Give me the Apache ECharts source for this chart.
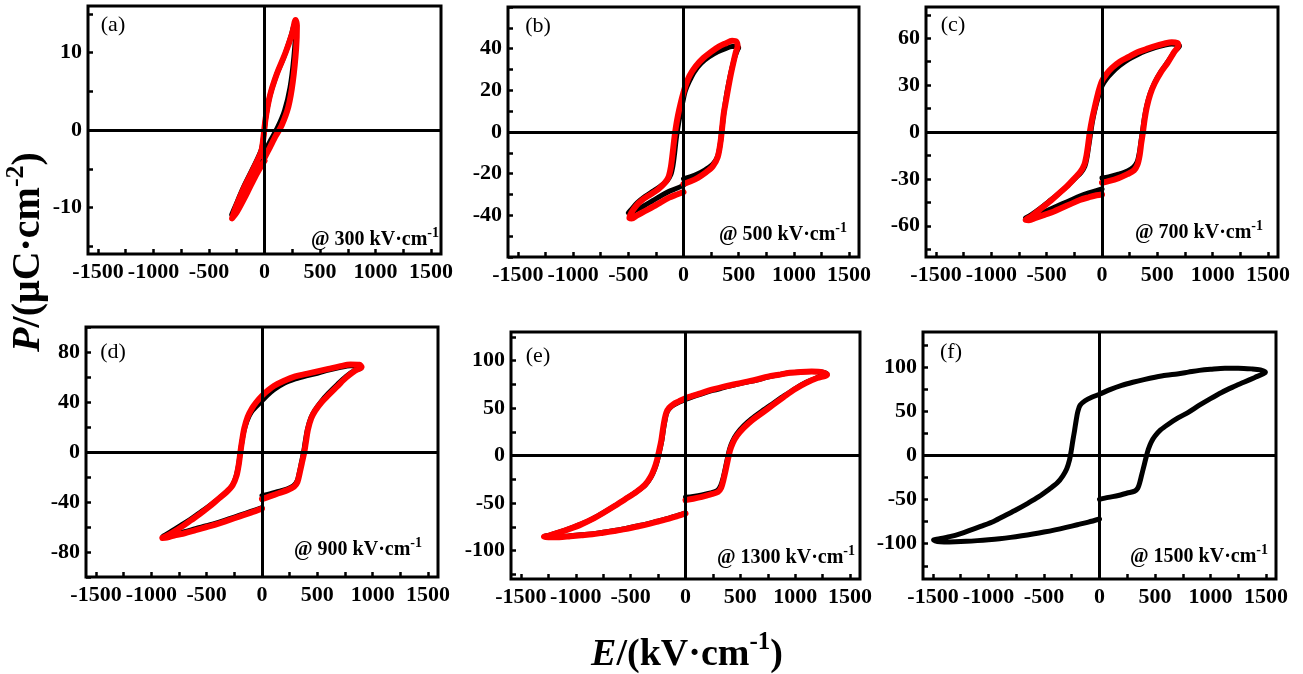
<!DOCTYPE html>
<html>
<head>
<meta charset="utf-8">
<script src="https://cdn.jsdelivr.net/npm/echarts@6/dist/echarts.min.js"></script>
<style>
html, body { margin: 0; padding: 0; background: #fff; }
#chart { width: 1303px; height: 674px; }
</style>
</head>
<body>
<div id="chart"></div>
<script>
// P-E loops, [E (kV/cm), P (uC/cm2)] in measuring order
const loopA_black = [[0,-2.8],[60,-1.2],[120,0.4],[180,2.5],[230,5.5],[265,9.5],[280,13],[270,13.6],[240,12.2],[180,9.6],[100,6.8],[45,4.2],[10,1.4],[-8,-0.8],[-30,-2.6],[-100,-4.8],[-190,-7.4],[-265,-9.9],[-295,-10.9],[-260,-10.6],[-170,-8],[-90,-5.6],[-30,-3.8],[0,-3.2]];
const loopA_red = [[0,-3.6],[50,-2.2],[100,-0.8],[155,0.6],[215,3],[255,6.2],[285,10.5],[292,13.5],[280,14.2],[250,12.5],[190,10],[110,7.2],[50,4.5],[10,1.5],[-10,-1],[-30,-2.8],[-100,-5],[-190,-7.6],[-260,-10],[-292,-11.4],[-250,-10.6],[-160,-8.2],[-80,-5.9],[-20,-4.4],[0,-4]];

const loopB_black = [[0,-22.5],[60,-21.5],[130,-20],[200,-18],[265,-15.5],[310,-11.5],[335,-5],[350,2],[368,10],[390,18],[415,25],[440,31],[465,36],[490,39.5],[500,40.5],[485,41],[440,41],[380,40],[310,38.5],[230,36],[160,33],[100,29],[50,24],[15,19.5],[0,16],[-20,11],[-45,4],[-65,-3],[-80,-10],[-95,-16],[-115,-20.5],[-150,-23.5],[-210,-26],[-280,-28.5],[-350,-31],[-420,-34],[-470,-37],[-500,-38.8],[-480,-38.8],[-430,-37.5],[-360,-35.5],[-280,-33],[-200,-30.5],[-130,-28.5],[-60,-27],[0,-25.5]];
const loopB_red = [[0,-25],[60,-23.8],[130,-22],[200,-19.5],[265,-16.5],[310,-12],[335,-5],[350,2],[365,9],[385,15],[405,21],[430,28],[455,34],[475,38.5],[490,41],[480,43.3],[440,43.8],[380,42.5],[320,41],[250,38.5],[180,35.5],[110,31.5],[55,27],[20,22.5],[0,19],[-25,14],[-50,8],[-70,2],[-85,-4],[-100,-11],[-115,-17],[-135,-21.5],[-170,-24.5],[-230,-27.5],[-300,-30],[-370,-32.5],[-430,-35.5],[-475,-39],[-490,-41.3],[-470,-41.5],[-420,-40],[-350,-38],[-270,-35.7],[-200,-33.5],[-130,-31.5],[-60,-30],[0,-28.8]];

const loopC_black = [[0,-29.5],[60,-28.8],[150,-27],[230,-25],[285,-22.5],[318,-19],[338,-13],[352,-6],[367,1],[383,9],[405,17],[437,25],[478,32],[535,39],[595,45],[655,51.5],[700,55],[685,56],[630,56.3],[560,55.5],[480,54],[400,52],[320,49.5],[240,46.5],[160,42.5],[90,38],[40,34],[0,29.5],[-35,22],[-65,14],[-88,6],[-105,-2],[-120,-9],[-135,-16],[-155,-22],[-190,-26],[-240,-29.5],[-320,-35],[-400,-40],[-480,-44.5],[-560,-49],[-640,-53],[-690,-55],[-660,-55],[-600,-53.5],[-520,-51],[-440,-48.5],[-360,-46],[-280,-43.5],[-200,-41],[-120,-39],[-50,-37.5],[0,-36.5]];
const loopC_red = [[0,-32.5],[60,-31.5],[150,-29.5],[230,-27],[290,-24.5],[320,-21],[340,-15],[355,-7],[370,0],[385,8],[405,16],[435,24],[475,31],[530,38],[590,44],[650,51],[690,55.5],[680,57],[630,57.5],[560,56.5],[480,55],[400,53],[320,51],[240,48],[160,45],[90,41],[40,37],[0,32.7],[-35,25],[-65,16],[-90,8],[-110,0],[-125,-8],[-140,-15],[-160,-21],[-195,-25.5],[-240,-29],[-320,-35],[-400,-40],[-480,-45],[-560,-49.5],[-640,-54],[-690,-56.3],[-660,-56.5],[-600,-55],[-520,-53],[-440,-51],[-360,-48.5],[-280,-46],[-200,-43.5],[-120,-41.8],[-50,-40.5],[0,-40]];

const loopD_black = [[0,-35],[70,-33.5],[150,-31.5],[230,-29.5],[285,-27],[318,-23],[338,-16],[357,-8],[376,0],[390,8],[410,18],[440,27],[478,33.5],[540,41],[600,47],[680,54],[760,60.5],[840,65.5],[895,67],[870,68.8],[800,69],[700,67.5],[600,65.5],[500,63],[400,61],[300,58.5],[200,55],[110,50],[50,45.5],[0,41],[-50,36.5],[-95,32],[-135,25],[-165,16],[-185,6],[-200,-3],[-215,-12],[-240,-21],[-275,-27.5],[-330,-32.5],[-410,-38.5],[-490,-44],[-570,-49],[-650,-54],[-730,-58.5],[-810,-63],[-885,-67],[-895,-67.5],[-860,-67.5],[-780,-65.5],[-700,-63.8],[-600,-61.3],[-500,-59],[-400,-56.5],[-300,-53.5],[-200,-50.5],[-100,-47.5],[0,-44.5]];
const loopD_red = [[0,-37.7],[70,-35.5],[150,-33],[230,-30.5],[290,-27.7],[320,-24],[340,-17],[360,-9],[380,-1],[395,7],[415,18],[445,27],[480,33],[540,40],[600,45.5],[680,52.5],[760,59.5],[840,65],[900,68],[880,69.8],[800,70],[700,68.5],[600,66.5],[500,64.5],[400,62.5],[300,60.5],[200,57],[110,53],[50,49],[0,45],[-50,40],[-90,35],[-130,28],[-160,19],[-180,9],[-195,0],[-210,-10],[-230,-19],[-265,-26.5],[-320,-32],[-400,-38],[-480,-44],[-560,-49.5],[-640,-54.5],[-720,-59.5],[-800,-64],[-880,-68],[-900,-68.8],[-860,-68.5],[-780,-66.5],[-700,-65],[-600,-62.5],[-500,-60],[-400,-57.5],[-300,-54.5],[-200,-51.5],[-100,-48.5],[0,-45.3]];

const loopE_black = [[0,-44],[70,-43],[150,-41.5],[230,-39.5],[290,-37],[320,-32],[342,-24],[362,-14],[382,-3],[402,7],[428,15],[468,23],[528,31],[600,38.5],[700,47],[800,55],[900,63],[1000,70.5],[1100,77],[1200,82],[1290,86],[1240,88],[1150,88.5],[1050,88],[950,87],[850,85],[750,82.5],[650,79.5],[550,77],[450,74.5],[350,71.5],[250,68.5],[150,65],[70,62],[0,59],[-60,56],[-110,53],[-145,49.5],[-170,45],[-185,38],[-200,28],[-215,16],[-235,5],[-255,-5],[-280,-14],[-315,-23],[-365,-31],[-445,-38],[-545,-45.5],[-645,-53],[-745,-60],[-845,-66.5],[-945,-72],[-1045,-76.5],[-1145,-80.5],[-1245,-84],[-1285,-85],[-1245,-85.5],[-1150,-85.5],[-1050,-84.5],[-950,-83.5],[-850,-82.5],[-750,-80.8],[-650,-79],[-550,-77],[-450,-74.5],[-350,-72],[-250,-69],[-150,-66],[-70,-63],[0,-60.5]];
const loopE_red = [[0,-47],[70,-45.5],[150,-43.5],[230,-41],[295,-38.5],[325,-34],[345,-26],[365,-16],[385,-5],[405,5],[430,13],[470,21],[530,29],[600,36.5],[700,45],[800,53.5],[900,62],[1000,70],[1100,76.5],[1200,81.5],[1290,85],[1250,87.5],[1150,88.3],[1050,88],[950,87],[850,85],[750,83],[650,80],[550,77.5],[450,75],[350,72.5],[250,69.5],[150,66],[70,63],[0,60.3],[-60,57],[-110,54],[-150,50],[-175,45],[-190,38],[-205,28],[-220,16],[-240,5],[-260,-5],[-285,-14],[-320,-23],[-370,-31],[-450,-38.5],[-550,-46],[-650,-53.5],[-750,-60.5],[-850,-67],[-950,-72.5],[-1050,-77],[-1150,-81],[-1250,-84.5],[-1290,-85.5],[-1250,-86],[-1150,-86],[-1050,-85],[-950,-84],[-850,-83],[-750,-81.3],[-650,-79.5],[-550,-77.5],[-450,-75],[-350,-72.5],[-250,-69.5],[-150,-66.5],[-70,-63.5],[0,-61]];

const loopF_black = [[0,-49.8],[80,-47.5],[170,-45.3],[250,-42.5],[317,-40.4],[345,-37],[362,-31],[380,-22],[400,-12],[420,-2],[440,7],[465,15],[500,22],[550,29],[620,35.5],[700,42],[800,49],[900,57],[1000,64.5],[1100,71.5],[1200,77.5],[1300,83],[1400,88.5],[1480,93],[1495,94.5],[1450,97],[1370,98.2],[1250,99],[1130,99],[1000,97.8],[900,96.5],[800,94.5],[700,92.5],[600,91],[500,88.7],[400,86],[300,83],[200,79.5],[100,75],[0,69.5],[-70,66],[-130,62],[-175,57],[-195,50],[-210,40],[-225,28],[-240,17],[-255,5],[-270,-5],[-295,-15],[-330,-23],[-380,-31],[-450,-38],[-550,-47],[-650,-54.5],[-750,-61.5],[-850,-68],[-950,-74.5],[-1050,-79.5],[-1150,-84],[-1250,-88.5],[-1350,-92],[-1450,-94.5],[-1495,-95.5],[-1460,-97.5],[-1400,-98],[-1300,-97.8],[-1200,-97.3],[-1100,-96.5],[-1000,-95.5],[-900,-94.3],[-800,-92.8],[-700,-91],[-600,-89],[-500,-86.8],[-400,-84.3],[-300,-81.5],[-200,-78.5],[-100,-75.5],[0,-72]];

const blackLoops = [loopA_black, loopB_black, loopC_black, loopD_black, loopE_black, loopF_black];
const redLoops = [loopA_red, loopB_red, loopC_red, loopD_red, loopE_red, null];

const panelNames = ['(a)', '(b)', '(c)', '(d)', '(e)', '(f)'];
const fieldMax = [300, 500, 700, 900, 1300, 1500];

// axis ticks and labels
const xTicks = [-1500, -1250, -1000, -750, -500, -250, 0, 250, 500, 750, 1000, 1250, 1500];
const xLabels = [-1500, -1000, -500, 0, 500, 1000, 1500];
const yMax = [16, 60, 80, 100, 130, 140];
const yTicks = [
  [-15, -10, -5, 0, 5, 10, 15],
  [-60, -50, -40, -30, -20, -10, 0, 10, 20, 30, 40, 50, 60],
  [-75, -60, -45, -30, -15, 0, 15, 30, 45, 60, 75],
  [-100, -80, -60, -40, -20, 0, 20, 40, 60, 80, 100],
  [-125, -100, -75, -50, -25, 0, 25, 50, 75, 100, 125],
  [-125, -100, -75, -50, -25, 0, 25, 50, 75, 100, 125]
];
const yLabels = [
  [-10, 0, 10],
  [-40, -20, 0, 20, 40],
  [-60, -30, 0, 30, 60],
  [-80, -40, 0, 40, 80],
  [-100, -50, 0, 50, 100],
  [-100, -50, 0, 50, 100]
];

// layout (px)
const rects = [
  [88, 6, 353, 248], [508, 7, 351, 250], [926, 7, 352, 250],
  [86, 327, 352, 250], [511, 332, 349, 247], [923, 332, 353, 247]
];
const notePos = [[439, 250], [847, 245], [1263, 243], [422, 560], [855, 568], [1268, 567]];
const namePos = [[113, 25], [538, 26], [953, 25], [113, 352], [538, 356], [951, 352]];

const FONT = '"Liberation Serif", "Times New Roman", serif';

const chart = echarts.init(document.getElementById('chart'));

const grid = [], xAxis = [], yAxis = [], series = [], graphic = [];

rects.forEach((r, i) => {
  grid.push({ left: r[0], top: r[1], width: r[2], height: r[3], show: true,
    borderColor: '#000', borderWidth: 3, backgroundColor: 'transparent' });

  xAxis.push({
    type: 'value', gridIndex: i, min: -1590, max: 1590, position: 'bottom',
    axisLine: { show: false, onZero: false }, splitLine: { show: false },
    axisTick: { show: true, inside: true, length: 5, customValues: xTicks,
      lineStyle: { color: '#000', width: 2.5 } },
    axisLabel: { customValues: xLabels, formatter: v => String(v), margin: 7,
      color: '#000', fontFamily: FONT, fontWeight: 'bold', fontSize: 22 }
  });
  yAxis.push({
    type: 'value', gridIndex: i, min: -yMax[i], max: yMax[i], position: 'left',
    axisLine: { show: false, onZero: false }, splitLine: { show: false },
    axisTick: { show: true, inside: true, length: 5, customValues: yTicks[i],
      lineStyle: { color: '#000', width: 2.5 } },
    axisLabel: { customValues: yLabels[i], formatter: v => String(v), margin: 6,
      color: '#000', fontFamily: FONT, fontWeight: 'bold', fontSize: 22 }
  });

  series.push({
    type: 'line', xAxisIndex: i, yAxisIndex: i, data: blackLoops[i],
    showSymbol: false, smooth: 0.3, z: 2,
    lineStyle: { color: '#000', width: 5, cap: 'round', join: 'round' },
    markLine: { silent: true, symbol: 'none', label: { show: false },
      lineStyle: { color: '#000', width: 3, type: 'solid' },
      data: [{ xAxis: 0 }, { yAxis: 0 }] }
  });
  if (redLoops[i]) {
    series.push({
      type: 'line', xAxisIndex: i, yAxisIndex: i, data: redLoops[i],
      showSymbol: false, smooth: 0.3, z: 3,
      lineStyle: { color: '#ff0000', width: 6, cap: 'round', join: 'round' }
    });
  }

  graphic.push({
    type: 'text', x: namePos[i][0], y: namePos[i][1],
    style: { text: panelNames[i], align: 'center', verticalAlign: 'middle',
      font: '22px ' + FONT, fill: '#000' }
  });
  graphic.push({
    type: 'text', x: notePos[i][0], y: notePos[i][1],
    style: {
      text: '{n|@ ' + fieldMax[i] + ' kV·cm}{s|-1}', align: 'right', verticalAlign: 'bottom',
      rich: {
        n: { fontFamily: FONT, fontWeight: 'bold', fontSize: 20, lineHeight: 24, verticalAlign: 'bottom', fill: '#000' },
        s: { fontFamily: FONT, fontWeight: 'bold', fontSize: 14, lineHeight: 14, verticalAlign: 'top', fill: '#000' }
      }
    }
  });
});

// axis titles
graphic.push({
  type: 'text', x: 26, y: 252, rotation: Math.PI / 2,
  style: {
    text: '{i|P}{n|/(μC·cm}{s|-2}{n|)}', align: 'center', verticalAlign: 'middle',
    rich: {
      i: { fontFamily: FONT, fontWeight: 'bold', fontStyle: 'italic', fontSize: 40, lineHeight: 46, verticalAlign: 'bottom', fill: '#000' },
      n: { fontFamily: FONT, fontWeight: 'bold', fontSize: 40, lineHeight: 46, verticalAlign: 'bottom', fill: '#000' },
      s: { fontFamily: FONT, fontWeight: 'bold', fontSize: 26, lineHeight: 28, verticalAlign: 'top', fill: '#000' }
    }
  }
});
graphic.push({
  type: 'text', x: 687, y: 652,
  style: {
    text: '{i|E}{n|/(kV·cm}{s|-1}{n|)}', align: 'center', verticalAlign: 'middle',
    rich: {
      i: { fontFamily: FONT, fontWeight: 'bold', fontStyle: 'italic', fontSize: 38, lineHeight: 44, verticalAlign: 'bottom', fill: '#000' },
      n: { fontFamily: FONT, fontWeight: 'bold', fontSize: 38, lineHeight: 44, verticalAlign: 'bottom', fill: '#000' },
      s: { fontFamily: FONT, fontWeight: 'bold', fontSize: 25, lineHeight: 32, verticalAlign: 'top', fill: '#000' }
    }
  }
});

chart.setOption({
  animation: false,
  backgroundColor: '#fff',
  grid: grid,
  xAxis: xAxis,
  yAxis: yAxis,
  series: series,
  graphic: graphic
});
</script>
</body>
</html>
